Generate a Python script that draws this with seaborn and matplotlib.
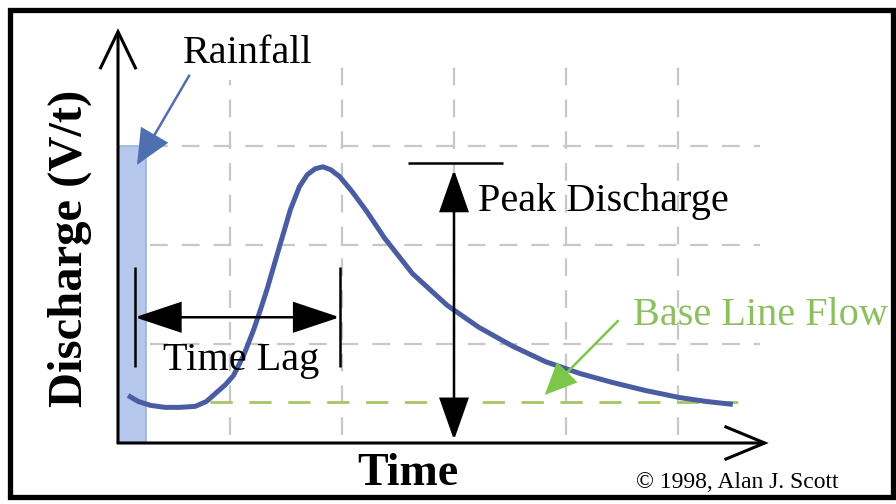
import seaborn as sns
import matplotlib.pyplot as plt
from matplotlib.patches import FancyArrowPatch, Rectangle

# hydrograph (x in grid columns, y in grid rows)
time = [0.09, 0.18, 0.29, 0.42, 0.55, 0.69, 0.79, 0.88, 0.96, 1.03, 1.12, 1.21,
        1.27, 1.33, 1.42, 1.54, 1.62, 1.69, 1.76, 1.83, 1.90, 1.98, 2.09, 2.22,
        2.38, 2.63, 2.94, 3.22, 3.52, 3.82, 4.13, 4.42, 4.71, 5.01, 5.25, 5.49]
discharge = [0.48, 0.42, 0.38, 0.36, 0.36, 0.37, 0.42, 0.51, 0.59, 0.68, 0.88, 1.14,
             1.34, 1.55, 1.90, 2.36, 2.59, 2.71, 2.77, 2.79, 2.76, 2.69, 2.54, 2.34,
             2.07, 1.71, 1.39, 1.17, 0.98, 0.82, 0.70, 0.61, 0.53, 0.46, 0.42, 0.39]

rain_width = 0.25
rain_height = 3.0
base_flow = 0.41
grid_x = [1, 2, 3, 4, 5]
grid_y = [1, 2, 3]
lag_start = 0.15
lag_end = 1.98
peak_time = 3.0
peak_top = 2.83

curve_color = '#4A5DA3'
grid_color = '#C8C8C8'
green_text = '#8CBF5E'
green_arrow = '#7CC64A'
green_line = '#A9C464'

sns.set_style("white")
plt.rcParams['font.family'] = ['Liberation Serif', 'DejaVu Serif']
plt.rcParams['text.color'] = 'black'

fig = plt.figure(figsize=(8.96, 5.04), dpi=100)
ax = fig.add_axes([0, 0, 1, 1])
ax.set_xlim(-118 / 112, (896 - 118) / 112)
ax.set_ylim((443 - 504) / 99, 443 / 99)
ax.set_axis_off()


def arrow(p0, p1, style, color='black', lw=1.8, z=5):
    ax.add_patch(FancyArrowPatch(p0, p1, arrowstyle=style, color=color, lw=lw,
                                 mutation_scale=1, shrinkA=0, shrinkB=0,
                                 zorder=z, capstyle='butt', joinstyle='miter'))


# dashed background grid
dash = (0, (8, 6.3))
ax.vlines(grid_x, 0.08, 3.92, colors=grid_color, lw=1.6, linestyles=dash, zorder=1)
ax.hlines(grid_y, 0.29, 5.73, colors=grid_color, lw=1.6, linestyles=dash, zorder=1)

# rainfall bar
ax.bar([0], [rain_height], width=rain_width, align='edge', color='#B5C7EA',
       edgecolor='#9BB1DE', lw=1.2, zorder=2)

# base flow line
ax.hlines([base_flow], 0.82, 5.6, colors=green_line, lw=2, linestyles=(0, (8, 6)), zorder=3)

# hydrograph
sns.lineplot(x=time, y=discharge, sort=False, estimator=None, color=curve_color,
             linewidth=3.6, ax=ax, zorder=4)
ax.lines[-1].set_solid_capstyle('butt')
ax.lines[-1].set_solid_joinstyle('round')

# axes with open arrow heads
arrow((0, -0.01), (0, 4.19), '->,head_length=27,head_width=13', lw=2.2, z=6)
arrow((-0.01, 0), (5.81, 0), '->,head_length=29,head_width=12', lw=2.2, z=6)

# time lag
ax.vlines([lag_start, lag_end], 0.77, 1.78, colors='black', lw=1.8, zorder=5)
arrow((lag_start, 1.27), (lag_end, 1.27), '<|-|>,head_length=30,head_width=10')
ax.text(0.40, 0.74, 'Time Lag', fontsize=29, ha='left', va='baseline', zorder=7)

# peak discharge
ax.hlines([peak_top], 2.59, 3.44, colors='black', lw=1.8, zorder=5)
arrow((peak_time, 0.03), (peak_time, 2.76), '<|-|>,head_length=27,head_width=9.5')
ax.text(3.21, 2.34, 'Peak Discharge', fontsize=29, ha='left', va='baseline', zorder=7)

# rainfall label
ax.text(0.58, 3.84, 'Rainfall', fontsize=29, ha='left', va='baseline', zorder=7,
        bbox=dict(facecolor='white', edgecolor='none', pad=6))
arrow((0.64, 3.72), (0.17, 2.81), '-|>,head_length=22,head_width=10',
      color='#4F6FB0', lw=1.8, z=8)

# base line flow label
ax.text(4.60, 1.19, 'Base Line Flow', fontsize=29, ha='left', va='baseline',
        color=green_text, zorder=7)
arrow((4.47, 1.24), (3.81, 0.485), '-|>,head_length=20,head_width=9',
      color=green_arrow, lw=1.8, z=6)

# axis titles and credit
ax.text(-0.43, 1.97, 'Discharge (V/t)', fontsize=35, fontweight='bold', rotation=90,
        ha='center', va='center', zorder=7)
ax.text(2.14, -0.424, 'Time', fontsize=33, fontweight='bold', ha='left', va='baseline', zorder=7)
ax.text(4.625, -0.455, '\u00a9 1998, Alan J. Scott', fontsize=17, ha='left', va='baseline', zorder=7)

# outer frame
fig.patches.append(Rectangle((10 / 896, 7 / 504), 883 / 896, 487 / 504, fill=False,
                             lw=3.8, edgecolor='black', transform=fig.transFigure))

fig.savefig('out.png', dpi=100)
